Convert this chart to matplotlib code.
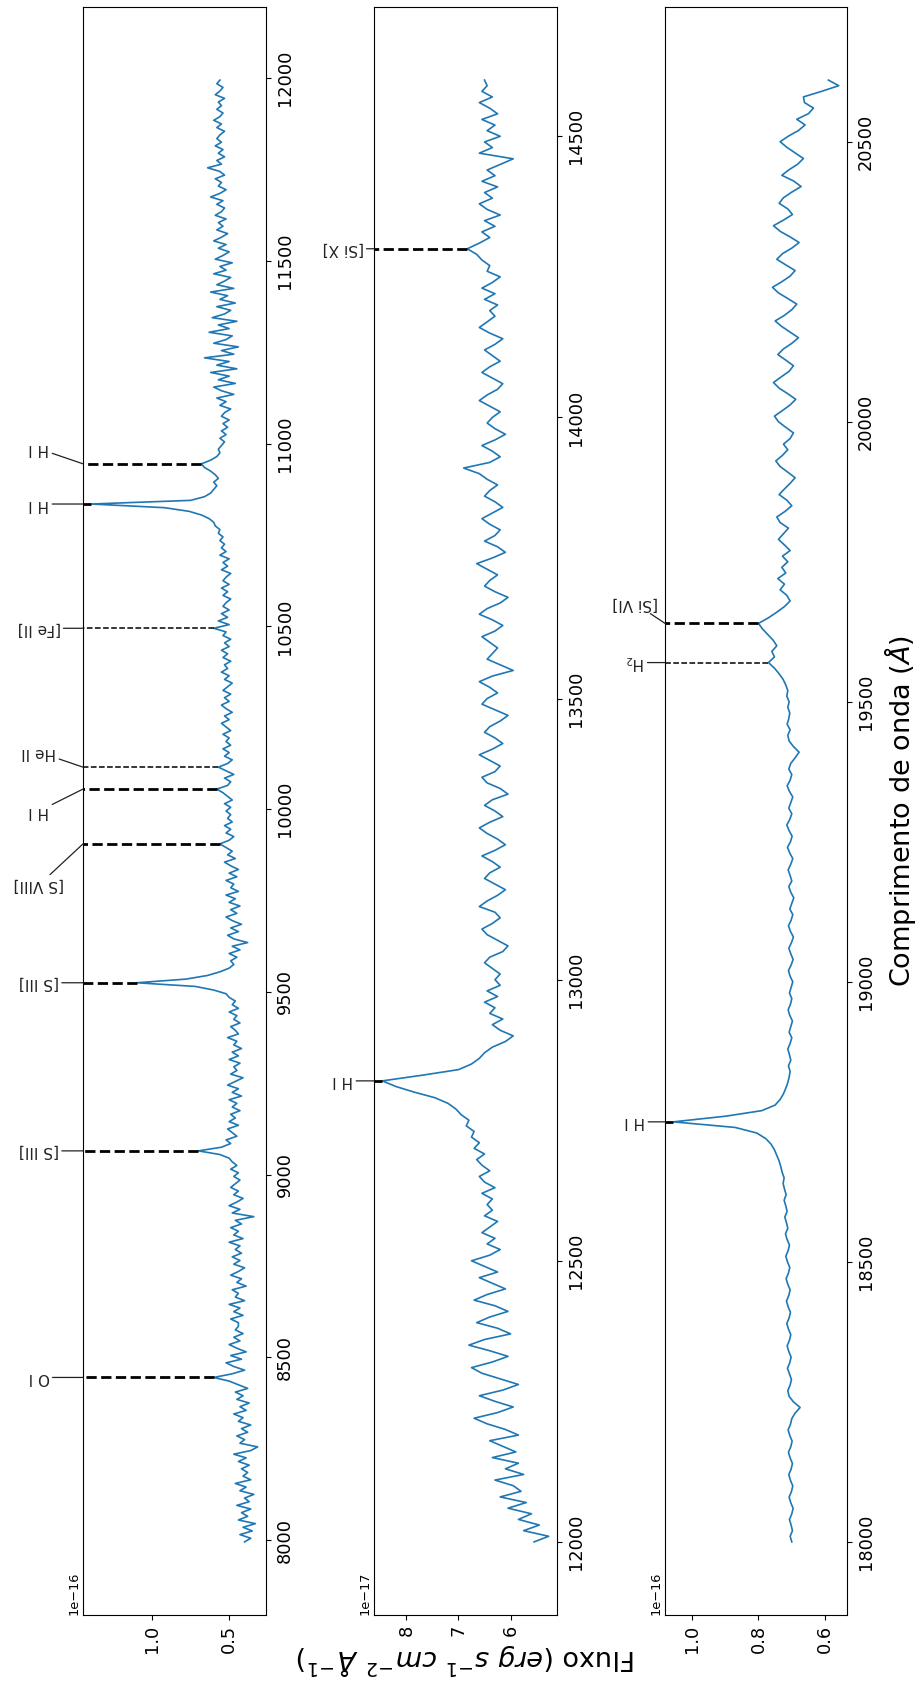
"""
Espectro NIR em tres janelas, com as linhas identificadas (figura em modo retrato).
"""
import numpy as np
import matplotlib
matplotlib.use('Agg')
import matplotlib.pyplot as plt

W, H = 916, 1688

# ---- spectra (flux in units of the offset shown on each panel) ----
wl1_start, wl1_step = 7995, 10      # 1e-16
flux1 = [
    0.40, 0.36, 0.43, 0.35, 0.41, 0.33, 0.44, 0.38, 0.42, 0.36, 0.45, 0.37, 0.40, 0.34, 0.43, 0.39, 0.46, 0.36, 0.41, 0.38,
    0.42, 0.37, 0.44, 0.39, 0.47, 0.36, 0.315, 0.43, 0.40, 0.45, 0.38, 0.42, 0.36, 0.44, 0.41, 0.47, 0.39, 0.43, 0.37, 0.45,
    0.41, 0.46, 0.38, 0.44, 0.50, 0.60, 0.48, 0.40, 0.47, 0.52, 0.42, 0.49, 0.39, 0.45, 0.50, 0.43, 0.47, 0.41, 0.46, 0.44,
    0.44, 0.49, 0.41, 0.47, 0.43, 0.50, 0.40, 0.46, 0.44, 0.48, 0.39, 0.45, 0.42, 0.49, 0.44, 0.40, 0.47, 0.43, 0.48, 0.42,
    0.46, 0.43, 0.50, 0.41, 0.47, 0.44, 0.49, 0.42, 0.46, 0.34, 0.48, 0.43, 0.50, 0.45, 0.41, 0.47, 0.44, 0.49, 0.46, 0.43,
    0.47, 0.44, 0.49, 0.45, 0.48, 0.50, 0.56, 0.70, 0.55, 0.49, 0.52, 0.45, 0.48, 0.51, 0.44, 0.50, 0.46, 0.49, 0.43, 0.48,
    0.45, 0.50, 0.42, 0.48, 0.44, 0.51, 0.46, 0.41, 0.49, 0.45, 0.47, 0.43, 0.50, 0.44, 0.48, 0.42, 0.47, 0.45, 0.51, 0.44,
    0.46, 0.49, 0.43, 0.47, 0.45, 0.50, 0.44, 0.48, 0.46, 0.50, 0.52, 0.60, 0.72, 1.10, 0.78, 0.64, 0.56, 0.50, 0.47, 0.49,
    0.45, 0.50, 0.43, 0.48, 0.38, 0.47, 0.51, 0.44, 0.49, 0.42, 0.48, 0.52, 0.45, 0.49, 0.43, 0.50, 0.46, 0.52, 0.44, 0.49,
    0.47, 0.52, 0.45, 0.50, 0.44, 0.49, 0.53, 0.46, 0.51, 0.48, 0.52, 0.56, 0.50, 0.47, 0.52, 0.49, 0.53, 0.48, 0.51, 0.49,
    0.52, 0.49, 0.53, 0.48, 0.51, 0.54, 0.58, 0.51, 0.49, 0.53, 0.47, 0.52, 0.57, 0.51, 0.48, 0.53, 0.50, 0.54, 0.49, 0.52,
    0.50, 0.54, 0.49, 0.52, 0.55, 0.50, 0.53, 0.48, 0.52, 0.55, 0.50, 0.53, 0.49, 0.54, 0.51, 0.48, 0.53, 0.50, 0.55, 0.51,
    0.53, 0.49, 0.54, 0.51, 0.55, 0.50, 0.53, 0.49, 0.54, 0.52, 0.60, 0.50, 0.57, 0.51, 0.55, 0.50, 0.54, 0.52, 0.49, 0.54,
    0.51, 0.55, 0.50, 0.54, 0.52, 0.49, 0.55, 0.51, 0.54, 0.50, 0.56, 0.52, 0.55, 0.53, 0.56, 0.54, 0.57, 0.56, 0.59, 0.60,
    0.63, 0.68, 0.76, 0.92, 1.394, 0.75, 0.66, 0.62, 0.60, 0.58, 0.60, 0.57, 0.59, 0.62, 0.66, 0.68, 0.62, 0.58, 0.56, 0.57,
    0.55, 0.53, 0.56, 0.52, 0.55, 0.51, 0.54, 0.50, 0.55, 0.53, 0.49, 0.56, 0.52, 0.58, 0.47, 0.55, 0.60, 0.46, 0.57, 0.50,
    0.62, 0.45, 0.58, 0.50, 0.66, 0.47, 0.55, 0.44, 0.60, 0.52, 0.48, 0.63, 0.50, 0.57, 0.45, 0.61, 0.53, 0.49, 0.58, 0.46,
    0.56, 0.51, 0.62, 0.47, 0.58, 0.53, 0.49, 0.60, 0.52, 0.56, 0.48, 0.59, 0.54, 0.50, 0.57, 0.52, 0.60, 0.55, 0.51, 0.58,
    0.54, 0.57, 0.52, 0.59, 0.55, 0.53, 0.58, 0.54, 0.62, 0.56, 0.52, 0.57, 0.55, 0.59, 0.53, 0.56, 0.64, 0.55, 0.58, 0.53,
    0.57, 0.54, 0.59, 0.55, 0.58, 0.56, 0.53, 0.58, 0.55, 0.60, 0.56, 0.54, 0.58, 0.55, 0.57, 0.53, 0.59, 0.56, 0.54, 0.58,
    0.56,
]

wl2_start, wl2_step = 12000, 10     # 1e-17
flux2 = [
    5.55, 5.27, 5.75, 5.45, 5.85, 5.60, 6.05, 5.70, 6.20, 5.80, 5.95, 6.30, 5.75, 6.10, 5.85, 6.35, 5.90, 6.15, 6.40, 5.85,
    6.10, 6.45, 6.70, 6.25, 5.95, 6.30, 6.60, 6.15, 5.85, 6.20, 6.55, 6.75, 6.35, 6.05, 6.40, 6.80, 6.50, 6.00, 6.25, 6.65,
    6.40, 6.05, 6.30, 6.70, 6.45, 6.10, 6.35, 6.60, 6.25, 6.50, 6.75, 6.40, 6.20, 6.45, 6.30, 6.55, 6.40, 6.25, 6.50, 6.35,
    6.45, 6.35, 6.55, 6.30, 6.50, 6.60, 6.40, 6.55, 6.65, 6.50, 6.70, 6.60, 6.75, 6.70, 6.85, 6.80, 6.95, 7.05, 7.20, 7.45,
    7.85, 8.20, 8.46, 7.70, 7.00, 6.75, 6.60, 6.50, 6.35, 6.10, 5.95, 6.20, 6.35, 6.15, 6.40, 6.30, 6.50, 6.25, 6.45, 6.20,
    6.30, 6.20, 6.35, 6.50, 6.40, 6.15, 6.05, 6.25, 6.45, 6.55, 6.35, 6.20, 6.30, 6.60, 6.45, 6.25, 6.10, 6.30, 6.50, 6.40,
    6.20, 6.35, 6.55, 6.30, 6.10, 6.25, 6.45, 6.60, 6.40, 6.15, 6.30, 6.50, 6.35, 6.05, 6.20, 6.45, 6.55, 6.30, 6.20, 6.40,
    6.60, 6.35, 6.15, 6.30, 6.50, 6.40, 6.20, 6.05, 6.30, 6.55, 6.45, 6.25, 6.40, 6.60, 6.35, 5.95, 6.20, 6.45, 6.35, 6.25,
    6.40, 6.55, 6.30, 6.15, 6.35, 6.60, 6.45, 6.20, 6.05, 6.30, 6.50, 6.40, 6.25, 6.45, 6.65, 6.35, 6.10, 6.25, 6.50, 6.30,
    6.20, 6.40, 6.55, 6.35, 6.15, 6.30, 6.50, 6.40, 6.25, 6.45, 6.60, 6.90, 6.40, 6.20, 6.35, 6.55, 6.30, 6.10, 6.30, 6.45,
    6.35, 6.20, 6.40, 6.60, 6.45, 6.25, 6.15, 6.35, 6.55, 6.40, 6.20, 6.35, 6.50, 6.30, 6.15, 6.40, 6.60, 6.45, 6.30, 6.40,
    6.25, 6.50, 6.30, 6.55, 6.35, 6.20, 6.45, 6.40, 6.55, 6.65, 6.83, 6.60, 6.40, 6.55, 6.30, 6.50, 6.20, 6.45, 6.60, 6.35,
    6.50, 6.25, 6.55, 6.30, 6.45, 6.20, 5.95, 6.60, 6.35, 6.50, 6.20, 6.45, 6.30, 6.55, 6.25, 6.40, 6.60, 6.35, 6.55, 6.45,
    6.50,
]

wl3_start, wl3_step = 18000, 10     # 1e-16
flux3 = [
    0.700, 0.705, 0.698, 0.702, 0.707, 0.700, 0.696, 0.703, 0.708, 0.701, 0.697, 0.704, 0.709, 0.702, 0.698, 0.705, 0.710, 0.703, 0.699, 0.706,
    0.711, 0.704, 0.700, 0.690, 0.675, 0.695, 0.708, 0.712, 0.705, 0.701, 0.707, 0.713, 0.706, 0.702, 0.709, 0.714, 0.707, 0.703, 0.710, 0.715,
    0.708, 0.704, 0.711, 0.716, 0.709, 0.705, 0.712, 0.717, 0.710, 0.706, 0.713, 0.718, 0.711, 0.707, 0.714, 0.719, 0.712, 0.716, 0.721, 0.714,
    0.718, 0.723, 0.717, 0.722, 0.726, 0.723, 0.729, 0.733, 0.738, 0.745, 0.752, 0.762, 0.778, 0.805, 0.870, 1.056, 0.900, 0.790, 0.750, 0.735,
    0.725, 0.718, 0.712, 0.708, 0.705, 0.710, 0.703, 0.707, 0.712, 0.705, 0.700, 0.708, 0.703, 0.698, 0.706, 0.711, 0.704, 0.700, 0.707, 0.702,
    0.697, 0.705, 0.710, 0.702, 0.696, 0.703, 0.709, 0.701, 0.695, 0.704, 0.710, 0.702, 0.697, 0.706, 0.700, 0.694, 0.703, 0.709, 0.700, 0.705,
    0.711, 0.703, 0.697, 0.706, 0.713, 0.704, 0.699, 0.708, 0.715, 0.706, 0.700, 0.709, 0.703, 0.697, 0.707, 0.714, 0.705, 0.700, 0.709, 0.703,
    0.690, 0.678, 0.695, 0.708, 0.712, 0.705, 0.714, 0.709, 0.706, 0.712, 0.708, 0.715, 0.712, 0.718, 0.726, 0.738, 0.752, 0.770, 0.752, 0.760,
    0.745, 0.756, 0.772, 0.788, 0.800, 0.770, 0.745, 0.722, 0.705, 0.715, 0.735, 0.722, 0.742, 0.718, 0.730, 0.712, 0.728, 0.705, 0.722, 0.740,
    0.725, 0.710, 0.735, 0.745, 0.720, 0.700, 0.715, 0.738, 0.722, 0.705, 0.690, 0.712, 0.735, 0.748, 0.728, 0.712, 0.725, 0.705, 0.695, 0.718,
    0.740, 0.752, 0.728, 0.705, 0.688, 0.712, 0.738, 0.755, 0.732, 0.708, 0.695, 0.718, 0.742, 0.725, 0.700, 0.680, 0.705, 0.730, 0.750, 0.722,
    0.700, 0.685, 0.712, 0.740, 0.758, 0.730, 0.705, 0.690, 0.718, 0.745, 0.728, 0.700, 0.678, 0.705, 0.735, 0.755, 0.725, 0.698, 0.712, 0.738,
    0.725, 0.700, 0.672, 0.695, 0.730, 0.708, 0.682, 0.665, 0.690, 0.715, 0.735, 0.710, 0.680, 0.660, 0.685, 0.650, 0.635, 0.662, 0.665, 0.610,
    0.559, 0.590,
]

# ---- identified lines ----
lines1 = ['O I', '[S III]', '[S III]', '[S VIII]', 'H I', 'He II', '[Fe II]', 'H I', 'H I']
lines1_wl = [8445, 9065, 9525, 9905, 10055, 10115, 10495, 10835, 10945]
lines2 = ['H I', '[Si X]']
lines2_wl = [12820, 14300]
lines3 = ['H I', 'H$_2$', '[Si VI]']
lines3_wl = [18750, 19570, 19640]

offsets = ['1e\u221216', '1e\u221217', '1e\u221216']
flux_ticks = [[0.5, 1.0], [6, 7, 8], [0.6, 0.8, 1.0]]
wl_ticks = [np.arange(8000, 12001, 500), np.arange(12000, 14501, 500), np.arange(18000, 20501, 500)]

# ---- layout (pixels) ----
boxes = [(83, 7, 266, 1615), (374, 7, 557, 1615), (665, 7, 847, 1615)]
label_dx = [-44, -31, -30]
nudge = [[0, 0, 0, 41, 22, -15, 0, 0, -15], [0, 0], [0, 0, -20]]
thin = [[False, False, False, False, False, True, True, False, False], [False, False], [False, True, False]]

BLUE = '#1f77b4'

fig = plt.figure(figsize=(W / 100, H / 100), dpi=100)

panels = [(wl1_start, wl1_step, flux1, lines1, lines1_wl),
          (wl2_start, wl2_step, flux2, lines2, lines2_wl),
          (wl3_start, wl3_step, flux3, lines3, lines3_wl)]

for k, (w0, dw, fl, names, lwl) in enumerate(panels):
    x0, y0, x1, y1 = boxes[k]
    ax = fig.add_axes([x0 / W, 1 - y1 / H, (x1 - x0) / W, (y1 - y0) / H])
    fl = np.array(fl)
    wl = w0 + dw * np.arange(len(fl))
    ax.plot(fl, wl, color=BLUE, lw=1.2)
    lo, hi = ax.get_xlim()
    ax.set_xlim(hi, lo)          # flux grows to the left

    for j, (name, lam) in enumerate(zip(names, lwl)):
        peak = np.interp(lam, wl, fl)
        lw = 1.1 if thin[k][j] else 2.0
        ax.plot([peak, hi], [lam, lam], ls='--', color='k', lw=lw,
                scalex=False, scaley=False)
        ax.annotate(name, xy=(hi, lam), xycoords='data',
                    xytext=(label_dx[k], -nudge[k][j]), textcoords='offset pixels',
                    rotation=180, ha='center', va='center', fontsize=11, color='#222222',
                    annotation_clip=False,
                    arrowprops=dict(arrowstyle='-', color='#222222', lw=0.9,
                                    shrinkA=0, shrinkB=0))

    ax.set_xticks(flux_ticks[k])
    ax.set_yticks(wl_ticks[k])
    ax.yaxis.tick_right()
    ax.tick_params(labelsize=12.8)
    plt.setp(ax.get_xticklabels(), rotation=90)
    plt.setp(ax.get_yticklabels(), rotation=90, va='center')
    ax.text(-0.015, 0.0, offsets[k], transform=ax.transAxes, rotation=90,
            ha='right', va='bottom', fontsize=9.3)

fig.text(900 / W, 1 - 811 / H, 'Comprimento de onda ($\\AA$)', rotation=90,
         ha='center', va='center', fontsize=19.5)
fig.text(466 / W, 1 - 1660 / H,
         'Fluxo ($erg\\ s^{-1}\\ cm^{-2}\\ \\AA^{-1}$)', rotation=180,
         ha='center', va='center', fontsize=19.5)

fig.savefig('out.png', dpi=100)
